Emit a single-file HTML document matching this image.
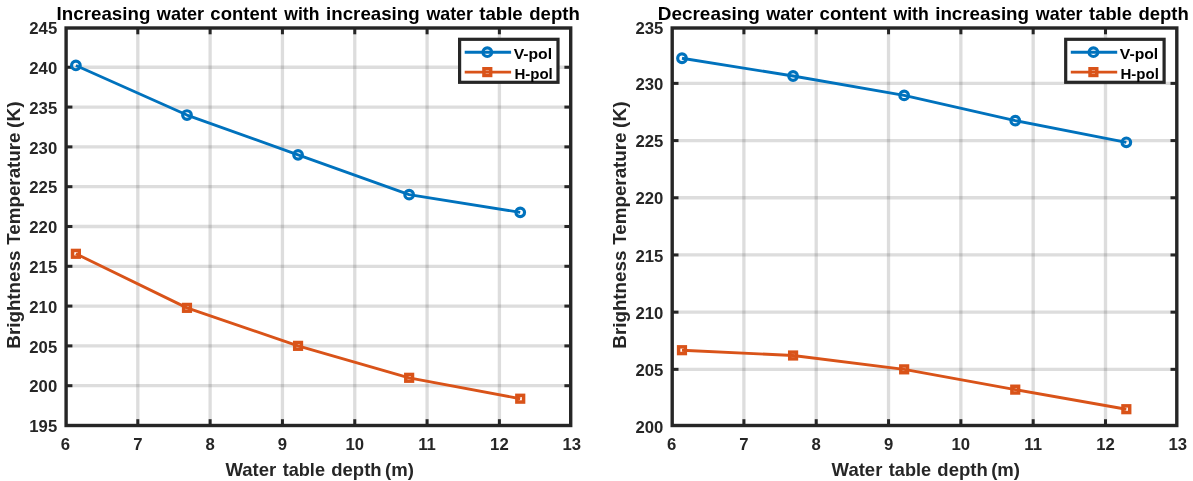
<!DOCTYPE html>
<html><head><meta charset="utf-8"><title>Brightness temperature vs water table depth</title>
<style>
html,body{margin:0;padding:0;background:#fff;}
body{width:1193px;height:481px;overflow:hidden;font-family:"Liberation Sans",sans-serif;}
svg{display:block;will-change:transform;}
</style></head><body>
<svg width="1193" height="481" viewBox="0 0 1193 481">
<rect width="1193" height="481" fill="#fff"/>
<line x1="137.80" y1="28.0" x2="137.80" y2="425.5" stroke="#262626" stroke-opacity="0.155" stroke-width="3.3"/>
<line x1="210.12" y1="28.0" x2="210.12" y2="425.5" stroke="#262626" stroke-opacity="0.155" stroke-width="3.3"/>
<line x1="282.44" y1="28.0" x2="282.44" y2="425.5" stroke="#262626" stroke-opacity="0.155" stroke-width="3.3"/>
<line x1="354.76" y1="28.0" x2="354.76" y2="425.5" stroke="#262626" stroke-opacity="0.155" stroke-width="3.3"/>
<line x1="427.08" y1="28.0" x2="427.08" y2="425.5" stroke="#262626" stroke-opacity="0.155" stroke-width="3.3"/>
<line x1="499.40" y1="28.0" x2="499.40" y2="425.5" stroke="#262626" stroke-opacity="0.155" stroke-width="3.3"/>
<line x1="66.1" y1="67.27" x2="570.7" y2="67.27" stroke="#262626" stroke-opacity="0.155" stroke-width="3.3"/>
<line x1="66.1" y1="107.07" x2="570.7" y2="107.07" stroke="#262626" stroke-opacity="0.155" stroke-width="3.3"/>
<line x1="66.1" y1="146.88" x2="570.7" y2="146.88" stroke="#262626" stroke-opacity="0.155" stroke-width="3.3"/>
<line x1="66.1" y1="186.68" x2="570.7" y2="186.68" stroke="#262626" stroke-opacity="0.155" stroke-width="3.3"/>
<line x1="66.1" y1="226.49" x2="570.7" y2="226.49" stroke="#262626" stroke-opacity="0.155" stroke-width="3.3"/>
<line x1="66.1" y1="266.29" x2="570.7" y2="266.29" stroke="#262626" stroke-opacity="0.155" stroke-width="3.3"/>
<line x1="66.1" y1="306.09" x2="570.7" y2="306.09" stroke="#262626" stroke-opacity="0.155" stroke-width="3.3"/>
<line x1="66.1" y1="345.90" x2="570.7" y2="345.90" stroke="#262626" stroke-opacity="0.155" stroke-width="3.3"/>
<line x1="66.1" y1="385.70" x2="570.7" y2="385.70" stroke="#262626" stroke-opacity="0.155" stroke-width="3.3"/>
<line x1="137.80" y1="425.5" x2="137.80" y2="419.2" stroke="#262626" stroke-width="3.0"/>
<line x1="137.80" y1="28.0" x2="137.80" y2="34.3" stroke="#262626" stroke-width="3.0"/>
<line x1="210.12" y1="425.5" x2="210.12" y2="419.2" stroke="#262626" stroke-width="3.0"/>
<line x1="210.12" y1="28.0" x2="210.12" y2="34.3" stroke="#262626" stroke-width="3.0"/>
<line x1="282.44" y1="425.5" x2="282.44" y2="419.2" stroke="#262626" stroke-width="3.0"/>
<line x1="282.44" y1="28.0" x2="282.44" y2="34.3" stroke="#262626" stroke-width="3.0"/>
<line x1="354.76" y1="425.5" x2="354.76" y2="419.2" stroke="#262626" stroke-width="3.0"/>
<line x1="354.76" y1="28.0" x2="354.76" y2="34.3" stroke="#262626" stroke-width="3.0"/>
<line x1="427.08" y1="425.5" x2="427.08" y2="419.2" stroke="#262626" stroke-width="3.0"/>
<line x1="427.08" y1="28.0" x2="427.08" y2="34.3" stroke="#262626" stroke-width="3.0"/>
<line x1="499.40" y1="425.5" x2="499.40" y2="419.2" stroke="#262626" stroke-width="3.0"/>
<line x1="499.40" y1="28.0" x2="499.40" y2="34.3" stroke="#262626" stroke-width="3.0"/>
<line x1="66.1" y1="67.27" x2="72.39999999999999" y2="67.27" stroke="#262626" stroke-width="3.0"/>
<line x1="570.7" y1="67.27" x2="564.4000000000001" y2="67.27" stroke="#262626" stroke-width="3.0"/>
<line x1="66.1" y1="107.07" x2="72.39999999999999" y2="107.07" stroke="#262626" stroke-width="3.0"/>
<line x1="570.7" y1="107.07" x2="564.4000000000001" y2="107.07" stroke="#262626" stroke-width="3.0"/>
<line x1="66.1" y1="146.88" x2="72.39999999999999" y2="146.88" stroke="#262626" stroke-width="3.0"/>
<line x1="570.7" y1="146.88" x2="564.4000000000001" y2="146.88" stroke="#262626" stroke-width="3.0"/>
<line x1="66.1" y1="186.68" x2="72.39999999999999" y2="186.68" stroke="#262626" stroke-width="3.0"/>
<line x1="570.7" y1="186.68" x2="564.4000000000001" y2="186.68" stroke="#262626" stroke-width="3.0"/>
<line x1="66.1" y1="226.49" x2="72.39999999999999" y2="226.49" stroke="#262626" stroke-width="3.0"/>
<line x1="570.7" y1="226.49" x2="564.4000000000001" y2="226.49" stroke="#262626" stroke-width="3.0"/>
<line x1="66.1" y1="266.29" x2="72.39999999999999" y2="266.29" stroke="#262626" stroke-width="3.0"/>
<line x1="570.7" y1="266.29" x2="564.4000000000001" y2="266.29" stroke="#262626" stroke-width="3.0"/>
<line x1="66.1" y1="306.09" x2="72.39999999999999" y2="306.09" stroke="#262626" stroke-width="3.0"/>
<line x1="570.7" y1="306.09" x2="564.4000000000001" y2="306.09" stroke="#262626" stroke-width="3.0"/>
<line x1="66.1" y1="345.90" x2="72.39999999999999" y2="345.90" stroke="#262626" stroke-width="3.0"/>
<line x1="570.7" y1="345.90" x2="564.4000000000001" y2="345.90" stroke="#262626" stroke-width="3.0"/>
<line x1="66.1" y1="385.70" x2="72.39999999999999" y2="385.70" stroke="#262626" stroke-width="3.0"/>
<line x1="570.7" y1="385.70" x2="564.4000000000001" y2="385.70" stroke="#262626" stroke-width="3.0"/>
<polyline points="75.89,65.45 186.98,115.03 298.06,154.84 409.15,194.64 520.23,212.35" fill="none" stroke="#0072BD" stroke-width="2.9" stroke-linejoin="round"/>
<circle cx="75.89" cy="65.45" r="4.3" fill="none" stroke="#0072BD" stroke-width="3.2"/>
<circle cx="186.98" cy="115.03" r="4.3" fill="none" stroke="#0072BD" stroke-width="3.2"/>
<circle cx="298.06" cy="154.84" r="4.3" fill="none" stroke="#0072BD" stroke-width="3.2"/>
<circle cx="409.15" cy="194.64" r="4.3" fill="none" stroke="#0072BD" stroke-width="3.2"/>
<circle cx="520.23" cy="212.35" r="4.3" fill="none" stroke="#0072BD" stroke-width="3.2"/>
<polyline points="75.89,253.80 186.98,307.85 298.06,345.85 409.15,377.80 520.23,398.70" fill="none" stroke="#D95319" stroke-width="2.9" stroke-linejoin="round"/>
<rect x="72.54" y="250.45" width="6.7" height="6.7" fill="none" stroke="#D95319" stroke-width="3.5"/>
<rect x="183.63" y="304.50" width="6.7" height="6.7" fill="none" stroke="#D95319" stroke-width="3.5"/>
<rect x="294.71" y="342.50" width="6.7" height="6.7" fill="none" stroke="#D95319" stroke-width="3.5"/>
<rect x="405.80" y="374.45" width="6.7" height="6.7" fill="none" stroke="#D95319" stroke-width="3.5"/>
<rect x="516.88" y="395.35" width="6.7" height="6.7" fill="none" stroke="#D95319" stroke-width="3.5"/>
<rect x="66.1" y="28.0" width="504.60" height="397.50" fill="none" stroke="#262626" stroke-width="3.4"/>
<text x="65.48" y="450.4" text-anchor="middle" font-size="16.7" fill="#262626" font-family="Liberation Sans, sans-serif" font-weight="bold">6</text>
<text x="137.80" y="450.4" text-anchor="middle" font-size="16.7" fill="#262626" font-family="Liberation Sans, sans-serif" font-weight="bold">7</text>
<text x="210.12" y="450.4" text-anchor="middle" font-size="16.7" fill="#262626" font-family="Liberation Sans, sans-serif" font-weight="bold">8</text>
<text x="282.44" y="450.4" text-anchor="middle" font-size="16.7" fill="#262626" font-family="Liberation Sans, sans-serif" font-weight="bold">9</text>
<text x="354.76" y="450.4" text-anchor="middle" font-size="16.7" fill="#262626" font-family="Liberation Sans, sans-serif" font-weight="bold">10</text>
<text x="427.08" y="450.4" text-anchor="middle" font-size="16.7" fill="#262626" font-family="Liberation Sans, sans-serif" font-weight="bold">11</text>
<text x="499.40" y="450.4" text-anchor="middle" font-size="16.7" fill="#262626" font-family="Liberation Sans, sans-serif" font-weight="bold">12</text>
<text x="571.72" y="450.4" text-anchor="middle" font-size="16.7" fill="#262626" font-family="Liberation Sans, sans-serif" font-weight="bold">13</text>
<text x="57.20" y="34.16" text-anchor="end" font-size="16.7" fill="#262626" font-family="Liberation Sans, sans-serif" font-weight="bold">245</text>
<text x="57.20" y="73.97" text-anchor="end" font-size="16.7" fill="#262626" font-family="Liberation Sans, sans-serif" font-weight="bold">240</text>
<text x="57.20" y="113.77" text-anchor="end" font-size="16.7" fill="#262626" font-family="Liberation Sans, sans-serif" font-weight="bold">235</text>
<text x="57.20" y="153.57" text-anchor="end" font-size="16.7" fill="#262626" font-family="Liberation Sans, sans-serif" font-weight="bold">230</text>
<text x="57.20" y="193.38" text-anchor="end" font-size="16.7" fill="#262626" font-family="Liberation Sans, sans-serif" font-weight="bold">225</text>
<text x="57.20" y="233.19" text-anchor="end" font-size="16.7" fill="#262626" font-family="Liberation Sans, sans-serif" font-weight="bold">220</text>
<text x="57.20" y="272.99" text-anchor="end" font-size="16.7" fill="#262626" font-family="Liberation Sans, sans-serif" font-weight="bold">215</text>
<text x="57.20" y="312.79" text-anchor="end" font-size="16.7" fill="#262626" font-family="Liberation Sans, sans-serif" font-weight="bold">210</text>
<text x="57.20" y="352.60" text-anchor="end" font-size="16.7" fill="#262626" font-family="Liberation Sans, sans-serif" font-weight="bold">205</text>
<text x="57.20" y="392.40" text-anchor="end" font-size="16.7" fill="#262626" font-family="Liberation Sans, sans-serif" font-weight="bold">200</text>
<text x="57.20" y="432.21" text-anchor="end" font-size="16.7" fill="#262626" font-family="Liberation Sans, sans-serif" font-weight="bold">195</text>
<text x="56.64" y="19.6" font-size="17.9" textLength="93.71" lengthAdjust="spacingAndGlyphs" fill="#000" font-family="Liberation Sans, sans-serif" font-weight="bold">Increasing</text>
<text x="156.85" y="19.6" font-size="17.9" textLength="47.32" lengthAdjust="spacingAndGlyphs" fill="#000" font-family="Liberation Sans, sans-serif" font-weight="bold">water</text>
<text x="210.38" y="19.6" font-size="17.9" textLength="66.84" lengthAdjust="spacingAndGlyphs" fill="#000" font-family="Liberation Sans, sans-serif" font-weight="bold">content</text>
<text x="284.25" y="19.6" font-size="17.9" textLength="35.13" lengthAdjust="spacingAndGlyphs" fill="#000" font-family="Liberation Sans, sans-serif" font-weight="bold">with</text>
<text x="326.09" y="19.6" font-size="17.9" textLength="93.56" lengthAdjust="spacingAndGlyphs" fill="#000" font-family="Liberation Sans, sans-serif" font-weight="bold">increasing</text>
<text x="426.45" y="19.6" font-size="17.9" textLength="46.52" lengthAdjust="spacingAndGlyphs" fill="#000" font-family="Liberation Sans, sans-serif" font-weight="bold">water</text>
<text x="479.28" y="19.6" font-size="17.9" textLength="43.46" lengthAdjust="spacingAndGlyphs" fill="#000" font-family="Liberation Sans, sans-serif" font-weight="bold">table</text>
<text x="529.24" y="19.6" font-size="17.9" textLength="50.61" lengthAdjust="spacingAndGlyphs" fill="#000" font-family="Liberation Sans, sans-serif" font-weight="bold">depth</text>
<text x="225.48" y="476.1" font-size="17.7" textLength="50.80" lengthAdjust="spacingAndGlyphs" fill="#262626" font-family="Liberation Sans, sans-serif" font-weight="bold">Water</text>
<text x="282.68" y="476.1" font-size="17.7" textLength="42.33" lengthAdjust="spacingAndGlyphs" fill="#262626" font-family="Liberation Sans, sans-serif" font-weight="bold">table</text>
<text x="331.24" y="476.1" font-size="17.7" textLength="50.40" lengthAdjust="spacingAndGlyphs" fill="#262626" font-family="Liberation Sans, sans-serif" font-weight="bold">depth</text>
<text x="385.07" y="476.1" font-size="17.7" textLength="28.86" lengthAdjust="spacingAndGlyphs" fill="#262626" font-family="Liberation Sans, sans-serif" font-weight="bold">(m)</text>
<g transform="translate(19.7,0) rotate(-90)">
<text x="-348.66" y="0" font-size="17.7" textLength="98.08" lengthAdjust="spacingAndGlyphs" fill="#262626" font-family="Liberation Sans, sans-serif" font-weight="bold">Brightness</text>
<text x="-244.81" y="0" font-size="17.7" textLength="112.35" lengthAdjust="spacingAndGlyphs" fill="#262626" font-family="Liberation Sans, sans-serif" font-weight="bold">Temperature</text>
<text x="-127.95" y="0" font-size="17.7" textLength="26.51" lengthAdjust="spacingAndGlyphs" fill="#262626" font-family="Liberation Sans, sans-serif" font-weight="bold">(K)</text>
</g>
<rect x="459.6" y="39.3" width="98.4" height="43.0" fill="#fff" stroke="#262626" stroke-width="3.2"/>
<line x1="464.7" y1="52.2" x2="511.1" y2="52.2" stroke="#0072BD" stroke-width="2.9"/>
<circle cx="487.3" cy="52.2" r="4.3" fill="none" stroke="#0072BD" stroke-width="3.2"/>
<line x1="464.7" y1="72.1" x2="511.1" y2="72.1" stroke="#D95319" stroke-width="2.9"/>
<rect x="483.95" y="68.75" width="6.7" height="6.7" fill="none" stroke="#D95319" stroke-width="3.5"/>
<text x="513.7" y="58.9" font-size="15" textLength="38.4" lengthAdjust="spacingAndGlyphs" fill="#000" font-family="Liberation Sans, sans-serif" font-weight="bold">V-pol</text>
<text x="514.4" y="78.8" font-size="15" textLength="38.4" lengthAdjust="spacingAndGlyphs" fill="#000" font-family="Liberation Sans, sans-serif" font-weight="bold">H-pol</text>
<line x1="743.90" y1="28.0" x2="743.90" y2="425.5" stroke="#262626" stroke-opacity="0.155" stroke-width="3.3"/>
<line x1="816.22" y1="28.0" x2="816.22" y2="425.5" stroke="#262626" stroke-opacity="0.155" stroke-width="3.3"/>
<line x1="888.54" y1="28.0" x2="888.54" y2="425.5" stroke="#262626" stroke-opacity="0.155" stroke-width="3.3"/>
<line x1="960.86" y1="28.0" x2="960.86" y2="425.5" stroke="#262626" stroke-opacity="0.155" stroke-width="3.3"/>
<line x1="1033.18" y1="28.0" x2="1033.18" y2="425.5" stroke="#262626" stroke-opacity="0.155" stroke-width="3.3"/>
<line x1="1105.50" y1="28.0" x2="1105.50" y2="425.5" stroke="#262626" stroke-opacity="0.155" stroke-width="3.3"/>
<line x1="672.2" y1="83.39" x2="1176.8000000000002" y2="83.39" stroke="#262626" stroke-opacity="0.155" stroke-width="3.3"/>
<line x1="672.2" y1="140.58" x2="1176.8000000000002" y2="140.58" stroke="#262626" stroke-opacity="0.155" stroke-width="3.3"/>
<line x1="672.2" y1="197.77" x2="1176.8000000000002" y2="197.77" stroke="#262626" stroke-opacity="0.155" stroke-width="3.3"/>
<line x1="672.2" y1="254.96" x2="1176.8000000000002" y2="254.96" stroke="#262626" stroke-opacity="0.155" stroke-width="3.3"/>
<line x1="672.2" y1="312.15" x2="1176.8000000000002" y2="312.15" stroke="#262626" stroke-opacity="0.155" stroke-width="3.3"/>
<line x1="672.2" y1="369.34" x2="1176.8000000000002" y2="369.34" stroke="#262626" stroke-opacity="0.155" stroke-width="3.3"/>
<line x1="743.90" y1="425.5" x2="743.90" y2="419.2" stroke="#262626" stroke-width="3.0"/>
<line x1="743.90" y1="28.0" x2="743.90" y2="34.3" stroke="#262626" stroke-width="3.0"/>
<line x1="816.22" y1="425.5" x2="816.22" y2="419.2" stroke="#262626" stroke-width="3.0"/>
<line x1="816.22" y1="28.0" x2="816.22" y2="34.3" stroke="#262626" stroke-width="3.0"/>
<line x1="888.54" y1="425.5" x2="888.54" y2="419.2" stroke="#262626" stroke-width="3.0"/>
<line x1="888.54" y1="28.0" x2="888.54" y2="34.3" stroke="#262626" stroke-width="3.0"/>
<line x1="960.86" y1="425.5" x2="960.86" y2="419.2" stroke="#262626" stroke-width="3.0"/>
<line x1="960.86" y1="28.0" x2="960.86" y2="34.3" stroke="#262626" stroke-width="3.0"/>
<line x1="1033.18" y1="425.5" x2="1033.18" y2="419.2" stroke="#262626" stroke-width="3.0"/>
<line x1="1033.18" y1="28.0" x2="1033.18" y2="34.3" stroke="#262626" stroke-width="3.0"/>
<line x1="1105.50" y1="425.5" x2="1105.50" y2="419.2" stroke="#262626" stroke-width="3.0"/>
<line x1="1105.50" y1="28.0" x2="1105.50" y2="34.3" stroke="#262626" stroke-width="3.0"/>
<line x1="672.2" y1="83.39" x2="678.5" y2="83.39" stroke="#262626" stroke-width="3.0"/>
<line x1="1176.8000000000002" y1="83.39" x2="1170.5000000000002" y2="83.39" stroke="#262626" stroke-width="3.0"/>
<line x1="672.2" y1="140.58" x2="678.5" y2="140.58" stroke="#262626" stroke-width="3.0"/>
<line x1="1176.8000000000002" y1="140.58" x2="1170.5000000000002" y2="140.58" stroke="#262626" stroke-width="3.0"/>
<line x1="672.2" y1="197.77" x2="678.5" y2="197.77" stroke="#262626" stroke-width="3.0"/>
<line x1="1176.8000000000002" y1="197.77" x2="1170.5000000000002" y2="197.77" stroke="#262626" stroke-width="3.0"/>
<line x1="672.2" y1="254.96" x2="678.5" y2="254.96" stroke="#262626" stroke-width="3.0"/>
<line x1="1176.8000000000002" y1="254.96" x2="1170.5000000000002" y2="254.96" stroke="#262626" stroke-width="3.0"/>
<line x1="672.2" y1="312.15" x2="678.5" y2="312.15" stroke="#262626" stroke-width="3.0"/>
<line x1="1176.8000000000002" y1="312.15" x2="1170.5000000000002" y2="312.15" stroke="#262626" stroke-width="3.0"/>
<line x1="672.2" y1="369.34" x2="678.5" y2="369.34" stroke="#262626" stroke-width="3.0"/>
<line x1="1176.8000000000002" y1="369.34" x2="1170.5000000000002" y2="369.34" stroke="#262626" stroke-width="3.0"/>
<polyline points="681.99,58.27 793.08,76.00 904.16,95.40 1015.25,120.63 1126.33,142.30" fill="none" stroke="#0072BD" stroke-width="2.9" stroke-linejoin="round"/>
<circle cx="681.99" cy="58.27" r="4.3" fill="none" stroke="#0072BD" stroke-width="3.2"/>
<circle cx="793.08" cy="76.00" r="4.3" fill="none" stroke="#0072BD" stroke-width="3.2"/>
<circle cx="904.16" cy="95.40" r="4.3" fill="none" stroke="#0072BD" stroke-width="3.2"/>
<circle cx="1015.25" cy="120.63" r="4.3" fill="none" stroke="#0072BD" stroke-width="3.2"/>
<circle cx="1126.33" cy="142.30" r="4.3" fill="none" stroke="#0072BD" stroke-width="3.2"/>
<polyline points="681.99,350.20 793.08,355.50 904.16,369.35 1015.25,389.63 1126.33,409.20" fill="none" stroke="#D95319" stroke-width="2.9" stroke-linejoin="round"/>
<rect x="678.64" y="346.85" width="6.7" height="6.7" fill="none" stroke="#D95319" stroke-width="3.5"/>
<rect x="789.73" y="352.15" width="6.7" height="6.7" fill="none" stroke="#D95319" stroke-width="3.5"/>
<rect x="900.81" y="366.00" width="6.7" height="6.7" fill="none" stroke="#D95319" stroke-width="3.5"/>
<rect x="1011.90" y="386.28" width="6.7" height="6.7" fill="none" stroke="#D95319" stroke-width="3.5"/>
<rect x="1122.98" y="405.85" width="6.7" height="6.7" fill="none" stroke="#D95319" stroke-width="3.5"/>
<rect x="672.2" y="28.0" width="504.60" height="397.50" fill="none" stroke="#262626" stroke-width="3.4"/>
<text x="671.58" y="450.4" text-anchor="middle" font-size="16.7" fill="#262626" font-family="Liberation Sans, sans-serif" font-weight="bold">6</text>
<text x="743.90" y="450.4" text-anchor="middle" font-size="16.7" fill="#262626" font-family="Liberation Sans, sans-serif" font-weight="bold">7</text>
<text x="816.22" y="450.4" text-anchor="middle" font-size="16.7" fill="#262626" font-family="Liberation Sans, sans-serif" font-weight="bold">8</text>
<text x="888.54" y="450.4" text-anchor="middle" font-size="16.7" fill="#262626" font-family="Liberation Sans, sans-serif" font-weight="bold">9</text>
<text x="960.86" y="450.4" text-anchor="middle" font-size="16.7" fill="#262626" font-family="Liberation Sans, sans-serif" font-weight="bold">10</text>
<text x="1033.18" y="450.4" text-anchor="middle" font-size="16.7" fill="#262626" font-family="Liberation Sans, sans-serif" font-weight="bold">11</text>
<text x="1105.50" y="450.4" text-anchor="middle" font-size="16.7" fill="#262626" font-family="Liberation Sans, sans-serif" font-weight="bold">12</text>
<text x="1177.82" y="450.4" text-anchor="middle" font-size="16.7" fill="#262626" font-family="Liberation Sans, sans-serif" font-weight="bold">13</text>
<text x="663.30" y="34.00" text-anchor="end" font-size="16.7" fill="#262626" font-family="Liberation Sans, sans-serif" font-weight="bold">235</text>
<text x="663.30" y="90.09" text-anchor="end" font-size="16.7" fill="#262626" font-family="Liberation Sans, sans-serif" font-weight="bold">230</text>
<text x="663.30" y="147.28" text-anchor="end" font-size="16.7" fill="#262626" font-family="Liberation Sans, sans-serif" font-weight="bold">225</text>
<text x="663.30" y="204.47" text-anchor="end" font-size="16.7" fill="#262626" font-family="Liberation Sans, sans-serif" font-weight="bold">220</text>
<text x="663.30" y="261.66" text-anchor="end" font-size="16.7" fill="#262626" font-family="Liberation Sans, sans-serif" font-weight="bold">215</text>
<text x="663.30" y="318.85" text-anchor="end" font-size="16.7" fill="#262626" font-family="Liberation Sans, sans-serif" font-weight="bold">210</text>
<text x="663.30" y="376.04" text-anchor="end" font-size="16.7" fill="#262626" font-family="Liberation Sans, sans-serif" font-weight="bold">205</text>
<text x="663.30" y="433.23" text-anchor="end" font-size="16.7" fill="#262626" font-family="Liberation Sans, sans-serif" font-weight="bold">200</text>
<text x="657.78" y="19.6" font-size="17.9" textLength="102.08" lengthAdjust="spacingAndGlyphs" fill="#000" font-family="Liberation Sans, sans-serif" font-weight="bold">Decreasing</text>
<text x="766.15" y="19.6" font-size="17.9" textLength="47.22" lengthAdjust="spacingAndGlyphs" fill="#000" font-family="Liberation Sans, sans-serif" font-weight="bold">water</text>
<text x="819.58" y="19.6" font-size="17.9" textLength="67.04" lengthAdjust="spacingAndGlyphs" fill="#000" font-family="Liberation Sans, sans-serif" font-weight="bold">content</text>
<text x="893.45" y="19.6" font-size="17.9" textLength="35.33" lengthAdjust="spacingAndGlyphs" fill="#000" font-family="Liberation Sans, sans-serif" font-weight="bold">with</text>
<text x="935.19" y="19.6" font-size="17.9" textLength="93.87" lengthAdjust="spacingAndGlyphs" fill="#000" font-family="Liberation Sans, sans-serif" font-weight="bold">increasing</text>
<text x="1035.85" y="19.6" font-size="17.9" textLength="46.72" lengthAdjust="spacingAndGlyphs" fill="#000" font-family="Liberation Sans, sans-serif" font-weight="bold">water</text>
<text x="1089.08" y="19.6" font-size="17.9" textLength="42.84" lengthAdjust="spacingAndGlyphs" fill="#000" font-family="Liberation Sans, sans-serif" font-weight="bold">table</text>
<text x="1138.44" y="19.6" font-size="17.9" textLength="50.40" lengthAdjust="spacingAndGlyphs" fill="#000" font-family="Liberation Sans, sans-serif" font-weight="bold">depth</text>
<text x="831.58" y="476.1" font-size="17.7" textLength="50.80" lengthAdjust="spacingAndGlyphs" fill="#262626" font-family="Liberation Sans, sans-serif" font-weight="bold">Water</text>
<text x="888.78" y="476.1" font-size="17.7" textLength="42.33" lengthAdjust="spacingAndGlyphs" fill="#262626" font-family="Liberation Sans, sans-serif" font-weight="bold">table</text>
<text x="937.34" y="476.1" font-size="17.7" textLength="50.40" lengthAdjust="spacingAndGlyphs" fill="#262626" font-family="Liberation Sans, sans-serif" font-weight="bold">depth</text>
<text x="991.17" y="476.1" font-size="17.7" textLength="28.86" lengthAdjust="spacingAndGlyphs" fill="#262626" font-family="Liberation Sans, sans-serif" font-weight="bold">(m)</text>
<g transform="translate(625.8,0) rotate(-90)">
<text x="-348.66" y="0" font-size="17.7" textLength="98.08" lengthAdjust="spacingAndGlyphs" fill="#262626" font-family="Liberation Sans, sans-serif" font-weight="bold">Brightness</text>
<text x="-244.81" y="0" font-size="17.7" textLength="112.35" lengthAdjust="spacingAndGlyphs" fill="#262626" font-family="Liberation Sans, sans-serif" font-weight="bold">Temperature</text>
<text x="-127.95" y="0" font-size="17.7" textLength="26.51" lengthAdjust="spacingAndGlyphs" fill="#262626" font-family="Liberation Sans, sans-serif" font-weight="bold">(K)</text>
</g>
<rect x="1065.7" y="39.3" width="98.4" height="43.0" fill="#fff" stroke="#262626" stroke-width="3.2"/>
<line x1="1070.8" y1="52.2" x2="1117.2" y2="52.2" stroke="#0072BD" stroke-width="2.9"/>
<circle cx="1093.4" cy="52.2" r="4.3" fill="none" stroke="#0072BD" stroke-width="3.2"/>
<line x1="1070.8" y1="72.1" x2="1117.2" y2="72.1" stroke="#D95319" stroke-width="2.9"/>
<rect x="1090.05" y="68.75" width="6.7" height="6.7" fill="none" stroke="#D95319" stroke-width="3.5"/>
<text x="1119.8" y="58.9" font-size="15" textLength="38.4" lengthAdjust="spacingAndGlyphs" fill="#000" font-family="Liberation Sans, sans-serif" font-weight="bold">V-pol</text>
<text x="1120.5" y="78.8" font-size="15" textLength="38.4" lengthAdjust="spacingAndGlyphs" fill="#000" font-family="Liberation Sans, sans-serif" font-weight="bold">H-pol</text>
</svg>
</body></html>
